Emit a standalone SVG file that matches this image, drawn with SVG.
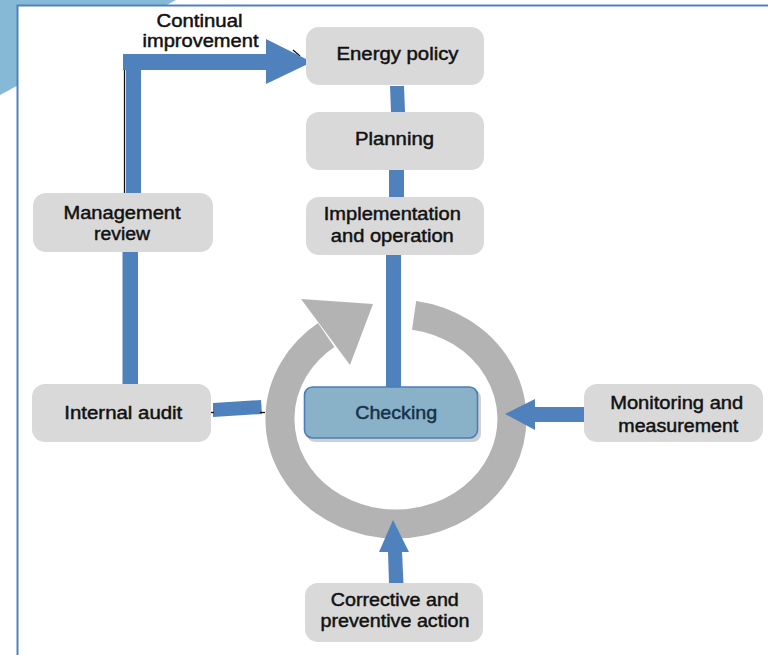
<svg xmlns="http://www.w3.org/2000/svg" width="768" height="655" viewBox="0 0 768 655">
<style>
.node{fill:#d9d9d9}
.t{font-family:"Liberation Sans",Arial,sans-serif;font-size:17.5px;fill:#111;stroke:#111;stroke-width:0.45;text-anchor:middle}
.bar{fill:#4f81bd}
.thin{stroke:#111;stroke-width:1.3;fill:none}
</style>
<rect width="768" height="655" fill="#ffffff"/>
<polygon points="0,0 176,0 0,95" fill="#86b9d6"/>
<rect x="17.5" y="5.5" width="760" height="660" fill="#ffffff" stroke="#4f81bd" stroke-width="2"/>

<g id="cycle">
<path d="M414.1,315.3 A116,105 0 1 1 326.2,335.1" fill="none" stroke="#b3b3b3" stroke-width="29"/>
<polygon points="301,299 373,304 350,365" fill="#b3b3b3"/>
</g>

<g id="connectors">
<line class="thin" x1="124.5" y1="70" x2="124.5" y2="193"/>
<line class="thin" x1="293" y1="50" x2="300" y2="56"/>
<rect class="bar" x="126" y="54" width="15" height="139"/>
<rect class="bar" x="123" y="54" width="144" height="16"/>
<polygon class="bar" points="266,39 312,62 266,84"/>
<polygon class="bar" points="390,86 404,86 405,112 391,112"/>
<rect class="bar" x="389" y="170" width="15" height="27"/>
<rect class="bar" x="386" y="255" width="15" height="132"/>
<rect class="bar" x="122.5" y="250" width="15.5" height="137"/>
<polygon class="bar" points="213,403 261,400 262,414 213,417"/>
<line class="thin" x1="210" y1="412.5" x2="214" y2="412.5"/>
<line class="thin" x1="260" y1="412.5" x2="265" y2="412.5"/>
<rect class="bar" x="534" y="407" width="51" height="15"/>
<polygon class="bar" points="535,399 505,414 535,430"/>
<polygon class="bar" points="388,551 402,551 403.5,584 389,584"/>
<polygon class="bar" points="379,552 393,520 409,552"/>
</g>

<g id="continual-improvement">
<text class="t" x="199.5" y="26.5" textLength="86" lengthAdjust="spacingAndGlyphs">Continual</text>
<text class="t" x="200.5" y="47" textLength="116" lengthAdjust="spacingAndGlyphs">improvement</text>
</g>

<g id="energy-policy">
<rect class="node" x="306" y="27" width="178" height="58" rx="13"/>
<text class="t" x="397.5" y="60" textLength="122" lengthAdjust="spacingAndGlyphs">Energy policy</text>
</g>

<g id="planning">
<rect class="node" x="306" y="112" width="178" height="58" rx="13"/>
<text class="t" x="394.5" y="145" textLength="79" lengthAdjust="spacingAndGlyphs">Planning</text>
</g>

<g id="implementation">
<rect class="node" x="306" y="197" width="178" height="58" rx="13"/>
<text class="t" x="392.3" y="220" textLength="137" lengthAdjust="spacingAndGlyphs">Implementation</text>
<text class="t" x="392.3" y="241.5" textLength="123" lengthAdjust="spacingAndGlyphs">and operation</text>
</g>

<g id="management-review">
<rect class="node" x="33" y="193" width="180" height="59" rx="13"/>
<text class="t" x="122" y="219" textLength="117" lengthAdjust="spacingAndGlyphs">Management</text>
<text class="t" x="122" y="240" textLength="56" lengthAdjust="spacingAndGlyphs">review</text>
</g>

<g id="internal-audit">
<rect class="node" x="32" y="384" width="179" height="58" rx="13"/>
<text class="t" x="123.3" y="419" textLength="118" lengthAdjust="spacingAndGlyphs">Internal audit</text>
</g>

<g id="checking">
<rect x="307" y="390" width="174" height="52" rx="8" fill="#d0d0d0"/>
<rect x="304.5" y="387" width="173" height="51" rx="8" fill="#89b1c8" stroke="#4a7ebb" stroke-width="1.6"/>
<text class="t" x="396.2" y="418.5" style="font-size:18.5px;fill:#16324a;stroke:#16324a" textLength="82" lengthAdjust="spacingAndGlyphs">Checking</text>
</g>

<g id="monitoring">
<rect class="node" x="584" y="384" width="179" height="58" rx="13"/>
<text class="t" x="676.7" y="409.3" textLength="133" lengthAdjust="spacingAndGlyphs">Monitoring and</text>
<text class="t" x="678.3" y="431.5" textLength="120" lengthAdjust="spacingAndGlyphs">measurement</text>
</g>

<g id="corrective">
<rect class="node" x="305" y="583" width="178" height="59" rx="13"/>
<text class="t" x="394.8" y="606" textLength="128" lengthAdjust="spacingAndGlyphs">Corrective and</text>
<text class="t" x="395" y="626.5" textLength="149" lengthAdjust="spacingAndGlyphs">preventive action</text>
</g>
</svg>
